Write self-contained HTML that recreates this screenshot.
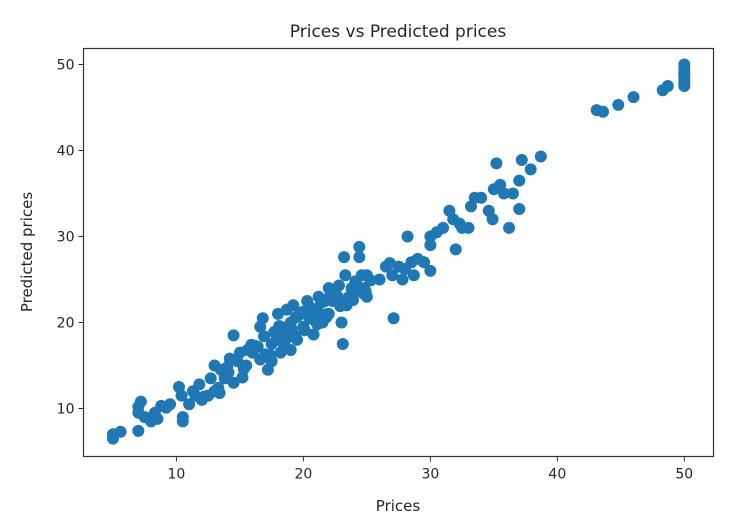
<!DOCTYPE html>
<html><head><meta charset="utf-8"><style>
body{margin:0;background:#fff;}
svg{display:block;font-family:"DejaVu Sans","Liberation Sans",sans-serif;}
</style></head><body>
<svg id="chart" width="734" height="521" viewBox="0 0 734 521" xmlns="http://www.w3.org/2000/svg">
<rect width="734" height="521" fill="#fff"/>
<text x="398" y="37" text-anchor="middle" font-size="17" fill="#262626">Prices vs Predicted prices</text>
<g id="points"></g>
<rect x="83.5" y="48.5" width="630" height="408" fill="none" stroke="#333" stroke-width="1.2"/>
<g id="axes"></g>
<text x="398" y="511" text-anchor="middle" font-size="15" fill="#262626">Prices</text>
<text transform="translate(32,252) rotate(-90)" text-anchor="middle" font-size="15" fill="#262626">Predicted prices</text>
</svg>
<script>
const xTicks=[10,20,30,40,50];
const yTicks=[10,20,30,40,50];
const prices=[5.0,5.0,5.6,7.0,7.0,7.0,7.2,7.5,8.0,8.3,8.5,8.8,9.5,10.2,10.5,10.5,10.4,11.0,11.5,11.8,12.0,12.5,13.0,13.4,13.0,13.5,13.8,14.2,14.5,14.5,15.0,15.5,16.0,16.2,16.6,16.8,17.2,17.5,17.5,18.0,18.0,18.2,18.5,18.7,19.0,19.0,19.2,19.5,19.8,20.0,20.3,20.5,21.0,21.2,21.5,21.7,22.0,22.0,22.3,22.7,23.0,23.1,23.2,23.3,23.5,23.8,24.0,24.4,24.4,24.6,24.8,25.0,25.0,26.0,26.5,27.0,27.1,27.5,27.8,28.2,28.5,28.7,29.5,30.0,30.0,30.5,30.0,31.0,31.5,31.8,32.0,32.3,32.5,33.0,33.2,33.5,34.0,34.6,34.9,35.0,35.2,35.5,35.8,36.2,36.5,37.0,37.0,37.2,37.9,38.7,43.1,43.6,44.8,46.0,48.3,48.7,50,50,50,50,50,50,50,50,
12.7,13.3,14.0,14.8,15.3,15.6,16.4,17.0,17.8,18.4,18.9,19.3,19.6,20.1,20.6,20.9,21.4,21.9,22.5,22.9,23.6,24.2,24.9,17.4,18.6,19.9,21.1,22.1,23.4,24.1,20.8,19.4,18.1,16.9,15.9,21.6,22.8,23.9,25.3,26.8,28.0,29.0,9.2,11.3,12.2,14.1,15.2,16.6,17.7,19.1,20.4,21.8,22.4,23.7,24.7];
const predicted=[6.5,7.0,7.3,7.4,9.5,10.2,10.8,9.0,8.5,9.5,8.8,10.3,10.5,12.5,9.0,8.5,11.5,10.5,11.5,12.8,11.0,11.5,12.0,11.8,15.0,14.5,13.5,15.8,18.5,13.0,16.5,15.0,16.5,17.3,19.5,20.5,14.5,17.5,15.5,18.0,21.0,16.5,19.0,21.5,16.8,20.0,22.0,18.0,21.0,19.5,22.5,20.5,21.5,23.0,20.0,22.5,24.0,21.0,22.5,23.0,20.0,17.5,27.6,25.5,22.5,24.0,23.5,27.6,28.8,25.5,24.0,25.5,23.0,25.0,26.5,25.5,20.5,26.5,25.0,30.0,27.0,25.5,27.0,26.0,30.0,30.5,29.0,31.0,33.0,32.0,28.5,31.5,31.0,31.0,33.5,34.5,34.5,33.0,32.0,35.5,38.5,36.0,35.0,31.0,35.0,33.2,36.5,38.9,37.8,39.3,44.7,44.5,45.3,46.2,47.0,47.5,47.5,48.0,48.5,49.0,49.5,50.0,47.8,48.8,
13.5,12.4,14.8,15.5,14.6,16.8,17.2,16.3,18.7,17.6,19.7,18.5,20.8,19.1,21.7,20.2,22.3,21.0,23.4,21.9,23.0,24.4,23.6,16.2,18.0,21.2,19.8,23.1,22.0,24.8,18.6,20.6,19.6,18.4,17.4,20.9,24.3,22.6,24.9,26.9,26.2,27.4,10.1,12.0,11.4,14.2,13.6,15.7,18.9,19.2,21.8,20.6,23.7,22.8,23.4];
const X0=2.68,X1=52.3,Y0=4.42,Y1=51.86;
const L=83.5,R=713.5,T=48.5,B=456.5;
function xs(v){return L+(v-X0)/(X1-X0)*(R-L);}
function ys(v){return B-(v-Y0)/(Y1-Y0)*(B-T);}
const NS="http://www.w3.org/2000/svg";
const pg=document.getElementById('points');
for(let i=0;i<prices.length;i++){
 const c=document.createElementNS(NS,'circle');
 c.setAttribute('cx',xs(prices[i]));c.setAttribute('cy',ys(predicted[i]));
 c.setAttribute('r',6);c.setAttribute('fill','#1f77b4');
 
 
 pg.appendChild(c);
}
const ax=document.getElementById('axes');
xTicks.forEach(t=>{
 const x=xs(t);
 const l=document.createElementNS(NS,'line');
 l.setAttribute('x1',x);l.setAttribute('x2',x);l.setAttribute('y1',B);l.setAttribute('y2',B+5);l.setAttribute('stroke','#333');
 
 
 ax.appendChild(l);
 const tx=document.createElementNS(NS,'text');
 tx.setAttribute('x',x);tx.setAttribute('y',B+22);tx.setAttribute('text-anchor','middle');tx.setAttribute('font-size','14');tx.setAttribute('fill','#262626');
 tx.textContent=t;
 
 
 ax.appendChild(tx);
});
yTicks.forEach(t=>{
 const y=ys(t);
 const l=document.createElementNS(NS,'line');
 l.setAttribute('x1',L-5);l.setAttribute('x2',L);l.setAttribute('y1',y);l.setAttribute('y2',y);l.setAttribute('stroke','#333');
 
 
 ax.appendChild(l);
 const tx=document.createElementNS(NS,'text');
 tx.setAttribute('x',L-9);tx.setAttribute('y',y+5);tx.setAttribute('text-anchor','end');tx.setAttribute('font-size','14');tx.setAttribute('fill','#262626');
 tx.textContent=t;
 
 
 ax.appendChild(tx);
});
</script>
</body></html>
